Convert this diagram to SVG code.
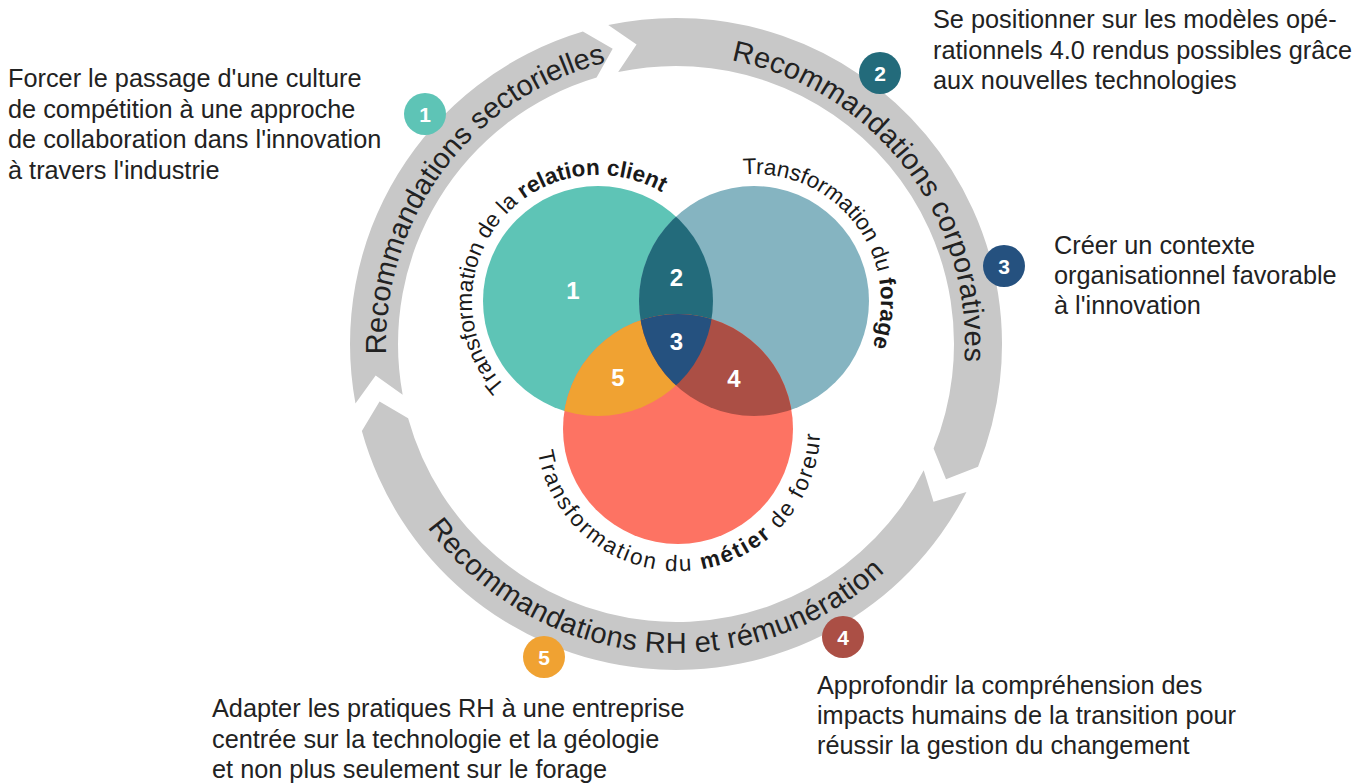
<svg xmlns="http://www.w3.org/2000/svg" width="1369" height="784" viewBox="0 0 1369 784">
<style>
.ring{fill:#c8c8c8}
.ringtxt{font-family:"Liberation Sans",Arial,sans-serif;font-size:29px;fill:#222}
.venntxt{font-family:"Liberation Sans",Arial,sans-serif;font-size:22.5px;fill:#1a1a1a}
.b{font-weight:bold}
.num{font-family:"Liberation Sans",Arial,sans-serif;font-size:24px;font-weight:bold;fill:#fff;text-anchor:middle}
.bnum{font-family:"Liberation Sans",Arial,sans-serif;font-size:21px;font-weight:bold;fill:#fff;text-anchor:middle}
.body{font-family:"Liberation Sans",Arial,sans-serif;font-size:25.3px;fill:#222}
</style>
<defs>
<clipPath id="cTeal"><circle cx="598" cy="301" r="115"/></clipPath>
<clipPath id="cBlue"><circle cx="754" cy="301" r="115"/></clipPath>
<path id="p1" d="M 463.91 541.78 A 290 290 0 0 1 807.66 85.61" fill="none"/>
<path id="p2" d="M 541.66 88.12 A 289 289 0 0 1 889.75 538.50" fill="none"/>
<path id="p3" d="M 367.95 368.24 A 309 309 0 0 0 973.76 426.58" fill="none"/>
<path id="pT" d="M 510.47 391.64 A 126 126 0 0 1 668.46 196.54" fill="none"/>
<path id="pB" d="M 686.70 193.30 A 127 127 0 0 1 838.98 395.38" fill="none"/>
<path id="pR" d="M 536.09 433.96 A 142 142 0 1 0 819.22 414.16" fill="none"/>
</defs>

<g id="connectors">
<path class="ring" d="M 355.46 403.41 A 326 326 0 0 1 582.87 31.59 L 612.69 48.71 L 596.58 77.59 A 278 278 0 0 0 402.66 394.66 L 375.65 375.57 Z"/>
<path class="ring" d="M 608.22 25.12 A 326 326 0 0 1 978.05 466.65 L 946.03 479.22 L 933.58 448.59 A 278 278 0 0 0 618.20 72.07 L 636.58 44.59 Z"/>
<path class="ring" d="M 966.47 492.00 A 326 326 0 0 1 361.86 431.12 L 379.55 401.62 L 408.11 418.29 A 278 278 0 0 0 923.70 470.21 L 933.50 501.80 Z"/>
<text class="ringtxt" text-anchor="middle"><textPath href="#p1" startOffset="50%">Recommandations sectorielles</textPath></text>
<text class="ringtxt" text-anchor="middle" letter-spacing="0.3"><textPath href="#p2" startOffset="50%">Recommandations corporatives</textPath></text>
<text class="ringtxt" text-anchor="middle" letter-spacing="0.45"><textPath href="#p3" startOffset="50%">Recommandations RH et rémunération</textPath></text>
</g>

<g id="venn">
<circle cx="598" cy="301" r="115" fill="#5ec4b6"/>
<circle cx="754" cy="301" r="115" fill="#85b4c1"/>
<circle cx="678" cy="429" r="115" fill="#fd7363"/>
<circle cx="754" cy="301" r="115" fill="#236b7b" clip-path="url(#cTeal)"/>
<circle cx="678" cy="429" r="115" fill="#f0a232" clip-path="url(#cTeal)"/>
<circle cx="678" cy="429" r="115" fill="#ab4f45" clip-path="url(#cBlue)"/>
<g clip-path="url(#cBlue)"><circle cx="678" cy="429" r="115" fill="#25517f" clip-path="url(#cTeal)"/></g>
</g>

<g id="venn-labels">
<text class="venntxt" text-anchor="middle" font-size="23.3"><textPath href="#pT" startOffset="50%">Transformation de la <tspan class="b" font-size="22.5">relation client</tspan></textPath></text>
<text class="venntxt" text-anchor="middle"><textPath href="#pB" startOffset="50%">Transformation du <tspan class="b">forage</tspan></textPath></text>
<text class="venntxt" text-anchor="middle" letter-spacing="2"><textPath href="#pR" startOffset="50%">Transformation du <tspan class="b">métier</tspan> de foreur</textPath></text>
</g>

<g id="area-numbers">
<text class="num" x="573" y="299">1</text>
<text class="num" x="676.5" y="286">2</text>
<text class="num" x="676.5" y="350">3</text>
<text class="num" x="734" y="387">4</text>
<text class="num" x="618" y="386">5</text>
</g>

<g id="node1">
<circle cx="425" cy="114" r="21" fill="#5ec4b6"/>
<text class="bnum" x="425" y="121.5">1</text>
<text class="body"><tspan x="8" y="87">Forcer le passage d'une culture</tspan><tspan x="8" y="118">de compétition à une approche</tspan><tspan x="8" y="148">de collaboration dans l'innovation</tspan><tspan x="8" y="179">à travers l'industrie</tspan></text>
</g>

<g id="node2">
<circle cx="880" cy="73" r="21" fill="#236b7b"/>
<text class="bnum" x="880" y="80.5">2</text>
<text class="body"><tspan x="933" y="28">Se positionner sur les modèles opé-</tspan><tspan x="933" y="59">rationnels 4.0 rendus possibles grâce</tspan><tspan x="933" y="89">aux nouvelles technologies</tspan></text>
</g>

<g id="node3">
<circle cx="1004" cy="266" r="21" fill="#25517f"/>
<text class="bnum" x="1004" y="273.5">3</text>
<text class="body"><tspan x="1054" y="254">Créer un contexte</tspan><tspan x="1054" y="284">organisationnel favorable</tspan><tspan x="1054" y="314">à l'innovation</tspan></text>
</g>

<g id="node4">
<circle cx="843" cy="637" r="21" fill="#ab4f45"/>
<text class="bnum" x="843" y="644.5">4</text>
<text class="body"><tspan x="817" y="694">Approfondir la compréhension des</tspan><tspan x="817" y="724">impacts humains de la transition pour</tspan><tspan x="817" y="754">réussir la gestion du changement</tspan></text>
</g>

<g id="node5">
<circle cx="544" cy="657" r="21" fill="#f0a232"/>
<text class="bnum" x="544" y="664.5">5</text>
<text class="body"><tspan x="212" y="717">Adapter les pratiques RH à une entreprise</tspan><tspan x="212" y="748">centrée sur la technologie et la géologie</tspan><tspan x="212" y="778">et non plus seulement sur le forage</tspan></text>
</g>
</svg>
